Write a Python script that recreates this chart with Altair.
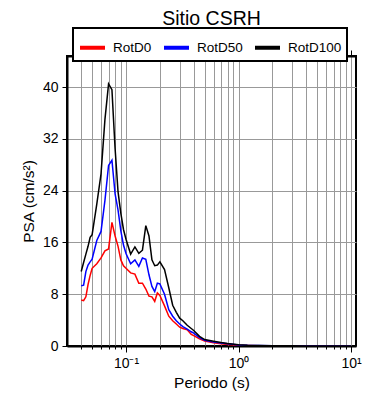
import altair as alt
import pandas as pd

periods = [0.04, 0.042, 0.044, 0.046, 0.048, 0.05, 0.055, 0.06, 0.065, 0.07,
           0.075, 0.08, 0.085, 0.09, 0.095, 0.1, 0.11, 0.12, 0.13, 0.14,
           0.15, 0.16, 0.17, 0.18, 0.19, 0.2, 0.22, 0.24, 0.26, 0.28,
           0.3, 0.32, 0.35, 0.38, 0.4, 0.45, 0.5, 0.6, 0.7, 0.8,
           1.0, 1.2, 1.5, 2.0, 3.0, 4.0, 5.0, 7.0, 10.0]

rotd0 = [7.1, 7.0, 7.6, 9.5, 10.9, 12.0, 12.7, 13.6, 14.7, 15.0,
         19.1, 17.0, 15.4, 13.3, 12.4, 12.0, 11.3, 11.1, 9.7, 9.7,
         8.8, 7.7, 7.6, 6.9, 8.2, 7.8, 6.2, 4.6, 3.9, 3.4,
         2.9, 2.7, 2.5, 1.8, 1.6, 1.1, 0.75, 0.5, 0.35, 0.25,
         0.12, 0.07, 0.04, 0.025, 0.01, 0.006, 0.004, 0.002, 0.001]

rotd50 = [9.3, 9.4, 11.5, 12.5, 13.0, 13.4, 16.3, 17.7, 22.5, 27.9,
          28.7, 23.5, 21.0, 17.8, 15.6, 14.3, 12.7, 13.3, 12.3, 13.6,
          13.4, 11.0, 9.2, 8.4, 9.7, 9.6, 8.0, 5.6, 4.6, 3.9,
          3.4, 3.0, 2.6, 2.2, 2.0, 1.3, 0.9, 0.6, 0.45, 0.33,
          0.17, 0.1, 0.06, 0.04, 0.015, 0.01, 0.008, 0.004, 0.002]

rotd100 = [11.5, 12.9, 14.2, 15.4, 16.8, 17.2, 21.9, 26.6, 35.0, 40.5,
           39.6, 30.5, 23.8, 20.5, 18.0, 16.5, 14.2, 15.3, 14.3, 14.8,
           18.6, 17.0, 13.3, 12.4, 12.5, 13.0, 11.8, 9.0, 6.3, 5.2,
           4.3, 3.9, 3.2, 2.7, 2.4, 1.5, 1.0, 0.75, 0.55, 0.4,
           0.2, 0.12, 0.08, 0.05, 0.02, 0.01, 0.01, 0.005, 0.003]

series_names = ["RotD0", "RotD50", "RotD100"]
series_colors = ["#ff0000", "#0000ff", "#000000"]

y_ticks = [0, 8, 16, 24, 32, 40]
x_ticks = [0.04, 0.05, 0.06, 0.07, 0.08, 0.09,
           0.1, 0.2, 0.3, 0.4, 0.5, 0.6, 0.7, 0.8, 0.9,
           1, 2, 3, 4, 5, 6, 7, 8, 9, 10]

rows = []
for name, vals in zip(series_names, [rotd0, rotd50, rotd100]):
    for p, v in zip(periods, vals):
        rows.append({"Serie": name, "Periodo": p, "PSA": v})
df = pd.DataFrame(rows)

label_expr = ("datum.value == 0.1 ? '10⁻¹' : datum.value == 1 ? '10⁰' : "
              "datum.value == 10 ? '10¹' : ''")
major_test = "datum.value == 0.1 || datum.value == 1 || datum.value == 10"
tick_cond = {"condition": {"test": major_test, "value": 6}, "value": 3}

xscale = alt.Scale(type="log", domain=[0.0299, 11.07], nice=False)
yscale = alt.Scale(domain=[0, 44.8], nice=False, zero=True)

lines = alt.Chart(df).mark_line(strokeWidth=1.5, clip=True).encode(
    x=alt.X("Periodo:Q", scale=xscale, title="Periodo (s)",
            axis=alt.Axis(values=x_ticks, labelExpr=label_expr, grid=True,
                          gridColor="#999999", gridWidth=1,
                          tickSize=tick_cond, labelOverlap=False,
                          labelFlush=False, labelPadding=4, titlePadding=5,
                          domain=True)),
    y=alt.Y("PSA:Q", scale=yscale, title="PSA (cm/s²)",
            axis=alt.Axis(values=y_ticks, grid=True, gridColor="#999999",
                          gridWidth=1, tickSize=5, labelPadding=4,
                          titlePadding=6)),
    color=alt.Color("Serie:N",
                    scale=alt.Scale(domain=series_names, range=series_colors),
                    legend=alt.Legend(title=None, orient="none", legendX=6,
                                      legendY=-28, direction="horizontal",
                                      symbolType="stroke", symbolSize=625,
                                      symbolStrokeWidth=4, labelOffset=6,
                                      columnPadding=4, padding=5,
                                      gridAlign="each",
                                      strokeColor="black", fillColor="white",
                                      labelFontSize=13.5,
                                      labelFont="Liberation Sans",
                                      labelColor="black")),
)

top = alt.Chart(df).mark_point(opacity=0).encode(
    x=alt.X("Periodo:Q", scale=xscale, title=None,
            axis=alt.Axis(orient="top", values=x_ticks, labels=False,
                          grid=False, tickSize=tick_cond, domain=True)),
)

chart = alt.layer(lines, top).resolve_axis(x="independent").properties(
    width=289, height=290,
    title=alt.TitleParams("Sitio CSRH", anchor="middle", frame="group",
                          offset=-2, fontSize=19.5, fontWeight="normal",
                          font="Liberation Sans", color="black"),
    padding={"left": 59, "top": 48, "right": 20, "bottom": 46},
    autosize=alt.AutoSizeParams(type="none"),
).configure_view(stroke="black", strokeWidth=2).configure_axis(
    labelFont="Liberation Sans", titleFont="Liberation Sans",
    labelFontSize=14, titleFontSize=15.5, titleFontWeight="normal",
    labelColor="black", titleColor="black", tickColor="black",
    domainColor="black", domainWidth=2, tickWidth=1,
).configure_legend(strokeWidth=2)

chart.save("out.html", embed_options={"renderer": "svg", "actions": False})
